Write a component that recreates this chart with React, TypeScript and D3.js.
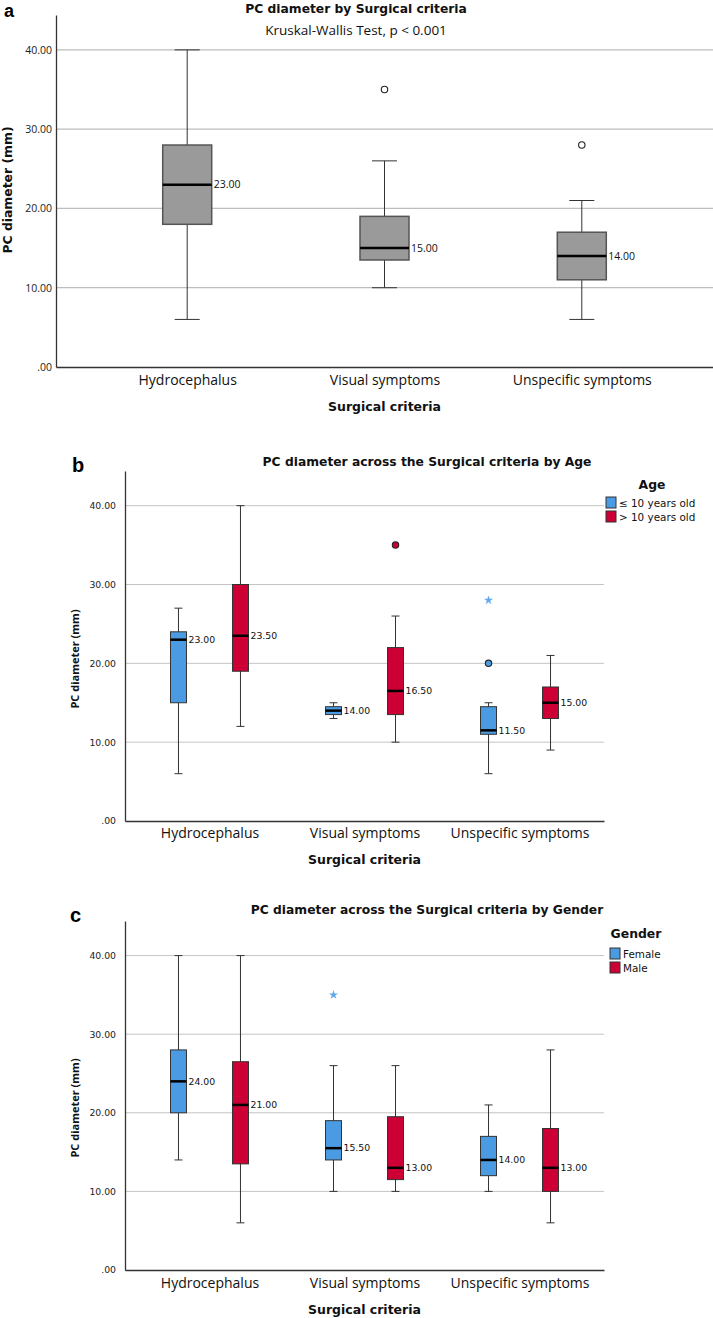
import { useEffect, useRef } from "react";
import * as d3 from "d3";

const categories = ["Hydrocephalus", "Visual symptoms", "Unspecific symptoms"];
const yTicks = [0, 10, 20, 30, 40];
const yMax = 44.4;

// box stats per category: [min, q1, median, q3, max]
const overallStats = [
  [6, 18, 23, 28, 40],
  [10, 13.5, 15, 19, 26],
  [6, 11, 14, 17, 21],
];
const overallOutliers = [[], [35], [28]];

const ageGroups = ["≤ 10 years old", "> 10 years old"];
const youngStats = [
  [6, 15, 23, 24, 27],
  [13, 13.5, 14, 14.5, 15],
  [6, 11, 11.5, 14.5, 15],
];
const youngOutliers = [[], [], [20]];
const youngExtremes = [[], [], [28]];
const olderStats = [
  [12, 19, 23.5, 30, 40],
  [10, 13.5, 16.5, 22, 26],
  [9, 13, 15, 17, 21],
];
const olderOutliers = [[], [35], []];
const olderExtremes = [[], [], []];

const genderGroups = ["Female", "Male"];
const femaleStats = [
  [14, 20, 24, 28, 40],
  [10, 14, 15.5, 19, 26],
  [10, 12, 14, 17, 21],
];
const femaleOutliers = [[], [], []];
const femaleExtremes = [[], [35], []];
const maleStats = [
  [6, 13.5, 21, 26.5, 40],
  [10, 11.5, 13, 19.5, 26],
  [6, 10, 13, 18, 28],
];
const maleOutliers = [[], [], []];
const maleExtremes = [[], [], []];

const BLUE = "#4b9be3";
const RED = "#cc0035";
const GREY = "#9a9a9a";
const STAR = "#62a8ee";

const DEJAVU = "'DejaVu Sans', sans-serif";
const OPEN = "'Open Sans', sans-serif";

interface Series {
  stats: number[][];
  outliers: number[][];
  extremes: number[][];
  fill: string;
  outlierFill: string;
  offset: number;
}

function drawPanel(root: any, p: any) {
  const g = root.append("g");
  const y = d3.scaleLinear().domain([0, yMax]).range([p.bottom, p.top]);
  const x = d3
    .scalePoint<string>()
    .domain(categories)
    .range([p.left, p.right])
    .padding(p.padding);

  // Gridlines
  g.append("g")
    .selectAll("line")
    .data(yTicks.slice(1))
    .join("line")
    .attr("x1", p.left)
    .attr("x2", p.gridRight)
    .attr("y1", (d: number) => y(d))
    .attr("y2", (d: number) => y(d))
    .attr("stroke", p.gridColor)
    .attr("stroke-width", p.gridWidth);

  // Y axis
  const yAxis = g
    .append("g")
    .attr("transform", `translate(${p.left},0)`)
    .call(
      d3
        .axisLeft(y)
        .tickValues(yTicks)
        .tickSize(0)
        .tickPadding(p.tickPad)
        .tickFormat((d) => (d === 0 ? ".00" : d3.format(".2f")(d as number))),
    );
  yAxis.attr("font-family", p.tickFont).attr("font-size", p.tickSize);
  yAxis.select(".domain").attr("stroke", "#333").attr("stroke-width", 1.3);
  yAxis.selectAll("text").attr("fill", "#222");

  // X axis
  const xAxis = g
    .append("g")
    .attr("transform", `translate(0,${p.bottom})`)
    .call(d3.axisBottom(x).tickSize(0).tickPadding(0));
  xAxis.attr("font-family", OPEN).attr("font-size", p.catSize);
  xAxis.select(".domain").attr("stroke", "#333").attr("stroke-width", 1.3);
  xAxis
    .selectAll("text")
    .attr("y", p.catY - p.bottom)
    .attr("dy", null)
    .attr("fill", "#111");

  // Boxes
  p.series.forEach((s: Series) => {
    const sg = g.append("g");
    const cells = sg
      .selectAll("g")
      .data(categories)
      .join("g")
      .attr("transform", (c: string) => `translate(${x(c)! + s.offset},0)`);

    cells.each(function (this: SVGGElement, _c: string, i: number) {
      const cg = d3.select(this);
      const [mn, q1, md, q3, mx] = s.stats[i];
      const bw = p.boxWidth;
      cg.append("line")
        .attr("y1", y(mn))
        .attr("y2", y(mx))
        .attr("stroke", "#333")
        .attr("stroke-width", 1);
      [mn, mx].forEach((v) =>
        cg
          .append("line")
          .attr("x1", -p.capWidth / 2)
          .attr("x2", p.capWidth / 2)
          .attr("y1", y(v))
          .attr("y2", y(v))
          .attr("stroke", "#333")
          .attr("stroke-width", 1),
      );
      cg.append("rect")
        .attr("x", -bw / 2)
        .attr("width", bw)
        .attr("y", y(q3))
        .attr("height", y(q1) - y(q3))
        .attr("fill", s.fill)
        .attr("stroke", p.boxStroke)
        .attr("stroke-width", p.boxStrokeWidth);
      cg.append("line")
        .attr("x1", -bw / 2)
        .attr("x2", bw / 2)
        .attr("y1", y(md))
        .attr("y2", y(md))
        .attr("stroke", "#000")
        .attr("stroke-width", 2.5);
      cg.append("text")
        .attr("x", bw / 2 + 2)
        .attr("y", y(md))
        .attr("dy", "0.35em")
        .attr("font-family", p.labelFont)
        .attr("font-size", p.labelSize)
        .attr("fill", "#111")
        .text(d3.format(".2f")(md));
      s.outliers[i].forEach((v) =>
        cg
          .append("circle")
          .attr("cy", y(v))
          .attr("r", 3.2)
          .attr("fill", s.outlierFill)
          .attr("stroke", "#222")
          .attr("stroke-width", 1.1),
      );
      s.extremes[i].forEach((v) =>
        cg
          .append("path")
          .attr("transform", `translate(0,${y(v)})`)
          .attr("d", d3.symbol(d3.symbolStar, 26)())
          .attr("fill", STAR),
      );
    });
  });

  // Titles
  g.append("text")
    .attr("x", p.letterX)
    .attr("y", p.letterY)
    .attr("font-family", "'Liberation Sans', Arial, sans-serif")
    .attr("font-weight", "bold")
    .attr("font-size", p.letterSize)
    .text(p.letter);

  g.append("text")
    .attr("x", p.titleX)
    .attr("y", p.titleY)
    .attr("text-anchor", "middle")
    .attr("font-family", DEJAVU)
    .attr("font-weight", "bold")
    .attr("font-size", 12.3)
    .attr("fill", "#111")
    .text(p.title);

  if (p.subtitle) {
    g.append("text")
      .attr("x", p.titleX)
      .attr("y", p.subtitleY)
      .attr("text-anchor", "middle")
      .attr("font-family", OPEN)
      .attr("font-size", 13.5)
      .attr("fill", "#111")
      .text(p.subtitle);
  }

  g.append("text")
    .attr("transform", `translate(${p.yTitleX},${p.yTitleY}) rotate(-90)`)
    .attr("text-anchor", "middle")
    .attr("font-family", p.yTitleFont)
    .attr("font-weight", "bold")
    .attr("font-size", p.yTitleSize)
    .attr("fill", "#111")
    .text("PC diameter (mm)");

  g.append("text")
    .attr("x", (p.left + p.right) / 2)
    .attr("y", p.xTitleY)
    .attr("text-anchor", "middle")
    .attr("font-family", DEJAVU)
    .attr("font-weight", "bold")
    .attr("font-size", 12.5)
    .attr("fill", "#111")
    .text("Surgical criteria");

  // Legend
  if (p.legend) {
    const L = p.legend;
    g.append("text")
      .attr("x", L.titleX)
      .attr("y", L.titleY)
      .attr("text-anchor", "middle")
      .attr("font-family", DEJAVU)
      .attr("font-weight", "bold")
      .attr("font-size", 12.4)
      .attr("fill", "#111")
      .text(L.title);
    L.labels.forEach((lab: string, i: number) => {
      const yy = L.itemY + i * 14;
      g.append("rect")
        .attr("x", L.x)
        .attr("y", yy)
        .attr("width", 10)
        .attr("height", 11)
        .attr("fill", L.colors[i])
        .attr("stroke", "#333")
        .attr("stroke-width", 1);
      g.append("text")
        .attr("x", L.x + 13)
        .attr("y", yy + 9.5)
        .attr("font-family", DEJAVU)
        .attr("font-size", 10.4)
        .attr("fill", "#111")
        .text(lab);
    });
  }
}

export default function App() {
  const svgRef = useRef<SVGSVGElement>(null);

  useEffect(() => {
    if (!svgRef.current) return;
    const svg = d3.select(svgRef.current);
    svg.selectAll("*").remove();

    const common = {
      left: 125,
      right: 604,
      padding: 0.545,
      gridRight: 604,
      gridColor: "#c4c4c4",
      gridWidth: 1,
      tickFont: DEJAVU,
      tickSize: 9.3,
      tickPad: 9,
      catSize: 14,
      boxWidth: 16,
      capWidth: 8,
      boxStroke: "#333",
      boxStrokeWidth: 1,
      labelFont: DEJAVU,
      labelSize: 9.3,
      yTitleFont: OPEN,
      yTitleSize: 11,
      yTitleX: 79,
      titleX: 427,
      letterSize: 20,
    };

    drawPanel(svg, {
      top: 15,
      bottom: 367,
      left: 56,
      right: 713,
      padding: 0.665,
      gridRight: 713,
      gridColor: "#bdbdbd",
      gridWidth: 1.2,
      tickFont: OPEN,
      tickSize: 10.5,
      tickPad: 4,
      catSize: 14,
      catY: 385,
      xTitleY: 411,
      boxWidth: 49,
      capWidth: 25,
      boxStroke: "#555",
      boxStrokeWidth: 1.5,
      labelFont: OPEN,
      labelSize: 10.5,
      yTitleFont: DEJAVU,
      yTitleSize: 12.4,
      yTitleX: 12,
      yTitleY: 190,
      letter: "a",
      letterX: 4,
      letterY: 17,
      letterSize: 18,
      title: "PC diameter by Surgical criteria",
      titleX: 356,
      titleY: 13,
      subtitle: "Kruskal-Wallis Test, p < 0.001",
      subtitleY: 35,
      series: [
        {
          stats: overallStats,
          outliers: overallOutliers,
          extremes: [[], [], []],
          fill: GREY,
          outlierFill: "#fff",
          offset: 0,
        },
      ],
    });

    drawPanel(svg, {
      ...common,
      top: 471,
      bottom: 821,
      catY: 838,
      xTitleY: 864,
      yTitleY: 659,
      letter: "b",
      letterX: 72,
      letterY: 472,
      title: "PC diameter across the Surgical criteria by Age",
      titleY: 466,
      series: [
        {
          stats: youngStats,
          outliers: youngOutliers,
          extremes: youngExtremes,
          fill: BLUE,
          outlierFill: BLUE,
          offset: -31,
        },
        {
          stats: olderStats,
          outliers: olderOutliers,
          extremes: olderExtremes,
          fill: RED,
          outlierFill: RED,
          offset: 31,
        },
      ],
      legend: {
        title: "Age",
        titleX: 652,
        titleY: 489,
        x: 606,
        itemY: 497,
        labels: ageGroups,
        colors: [BLUE, RED],
      },
    });

    drawPanel(svg, {
      ...common,
      top: 921,
      bottom: 1270,
      catY: 1288,
      xTitleY: 1314,
      yTitleY: 1108,
      letter: "c",
      letterX: 70,
      letterY: 922,
      title: "PC diameter across the Surgical criteria by Gender",
      titleY: 914,
      series: [
        {
          stats: femaleStats,
          outliers: femaleOutliers,
          extremes: femaleExtremes,
          fill: BLUE,
          outlierFill: BLUE,
          offset: -31,
        },
        {
          stats: maleStats,
          outliers: maleOutliers,
          extremes: maleExtremes,
          fill: RED,
          outlierFill: RED,
          offset: 31,
        },
      ],
      legend: {
        title: "Gender",
        titleX: 636,
        titleY: 938,
        x: 610,
        itemY: 948,
        labels: genderGroups,
        colors: [BLUE, RED],
      },
    });
  }, []);

  return (
    <svg
      ref={svgRef}
      width={713}
      height={1318}
      style={{ position: "absolute", left: 0, top: 0, background: "#fff" }}
    />
  );
}
